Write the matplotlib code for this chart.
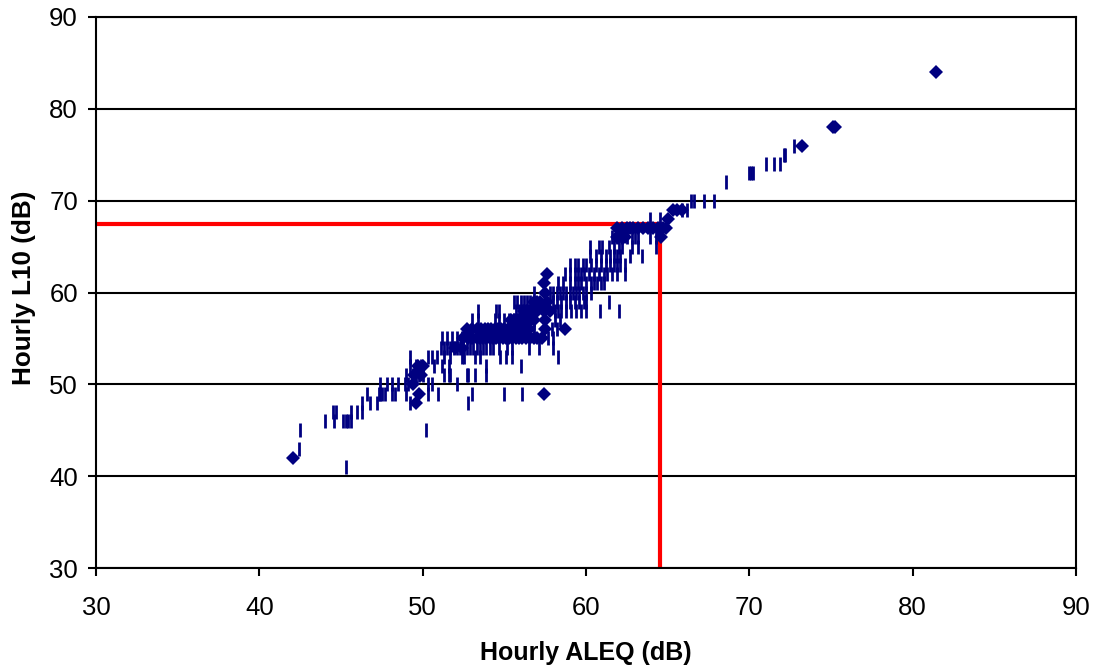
import matplotlib
matplotlib.use("Agg")
import matplotlib.pyplot as plt

plt.rcParams['font.family'] = ['Liberation Sans', 'DejaVu Sans']

# hourly ALEQ readings grouped by their L10 value, first series (tick marker)
t41 = [45.3]
t43 = [42.4]
t45 = [42.5, 50.2]
t46 = [44.0, 44.6, 45.1, 45.3, 45.45, 45.6]
t47 = [44.5, 44.7, 45.6, 46.0, 46.3]
t48 = [46.3, 46.8, 47.2, 49.2, 52.8]
t49 = [46.6, 47.3, 47.4, 47.5, 47.7, 48.15, 48.3, 49.0, 50.35, 50.96, 53.05, 55.0, 56.1]
t50 = [47.4, 47.8, 48.1, 48.5, 48.9, 49.1, 50.35, 50.6, 52.1]
t51 = [49.0, 49.4, 49.6, 49.8, 50.0, 51.3, 51.6, 51.7, 52.7, 52.8, 53.2, 53.9]
t52 = [49.2, 49.6, 49.9, 50.7, 51.2, 51.6, 53.9, 56.0]
t53 = [49.2, 50.35, 50.6, 50.85, 51.3, 51.7, 52.4, 52.55, 53.2, 53.5, 54.75, 55.1, 55.5, 58.3]
t54 = [51.1, 51.3, 51.5, 51.7, 51.9, 52.1, 52.3, 52.5, 52.7, 52.9, 53.1, 53.3, 53.5, 53.7,
       53.9, 54.1, 54.3, 54.7, 55.15, 55.5, 56.5, 57.1, 57.95]
t55 = [51.2, 51.5, 51.8, 52.1, 52.4, 57.7, 58.0]
t56 = [55.6, 55.9, 56.2, 56.5, 56.8, 57.9, 58.2]
t57 = [53.0, 53.4, 54.4, 54.7, 55.0, 55.3, 55.6, 55.9, 56.2, 56.5, 56.8, 58.1, 58.4]
t58 = [53.4, 54.5, 54.7, 55.7, 55.9, 56.1, 56.3, 56.5, 56.7, 58.1, 58.3, 58.5, 58.8, 59.1, 59.4,
       59.7, 60.0, 60.86, 62.0]
t59 = [55.6, 55.8, 56.0, 56.2, 56.4, 56.6, 58.0, 58.2, 58.5, 58.8, 59.0, 59.3, 59.6, 59.9, 60.0,
       61.4]
t60 = [56.8, 57.8, 58.0, 58.2, 58.4, 58.6, 58.8, 59.0, 59.2, 59.4, 59.6, 59.8, 60.0, 60.3]
t61 = [58.3, 58.6, 59.0, 59.3, 59.5, 59.7, 60.0, 60.3, 60.5, 60.7, 60.9, 61.1]
t62 = [58.7, 59.0, 59.3, 59.5, 59.7, 59.9, 60.2, 60.5, 60.8, 61.1, 61.3, 61.6, 61.9, 62.4]
t63 = [59.0, 59.3, 59.5, 59.8, 60.0, 60.3, 60.6, 60.9, 61.2, 61.5, 61.7, 61.9, 62.1, 62.4]
t64 = [60.25, 60.6, 60.9, 61.2, 61.5, 61.7, 61.9, 62.1, 62.7, 63.4]
t65 = [60.25, 60.8, 61.0, 61.4, 61.7, 62.0, 62.2, 62.8, 63.2, 64.3]
t66 = [61.6, 61.9, 62.2, 62.5, 62.8, 63.0, 63.2, 63.9, 64.3]
t68 = [63.9, 64.5]
t69 = [65.9, 66.2]
t70 = [66.4, 66.6, 67.2, 67.85]
t72 = [68.6]
t73 = [70.0, 70.1, 70.25]
t74 = [71.0, 71.5, 71.9]
t75 = [72.1, 72.2]
t76 = [72.75]
tick_levels = [41, 43, 45, 46, 47, 48, 49, 50, 51, 52, 53, 54, 55, 56, 57, 58, 59, 60, 61, 62,
               63, 64, 65, 66, 68, 69, 70, 72, 73, 74, 75, 76]
tick_rows = [t41, t43, t45, t46, t47, t48, t49, t50, t51, t52, t53, t54, t55, t56, t57, t58, t59,
             t60, t61, t62, t63, t64, t65, t66, t68, t69, t70, t72, t73, t74, t75, t76]

# second series (diamond marker)
d42 = [42.04]
d48 = [49.6]
d49 = [49.8, 57.4]
d50 = [49.4]
d51 = [49.5, 49.9]
d52 = [49.7, 50.0]
d54 = [52.0, 52.4]
d55 = [52.5, 52.8, 53.0, 53.3, 53.5, 53.7, 53.9, 54.1, 54.3, 54.5, 54.7, 54.9, 55.1, 55.3, 55.5,
       55.7, 55.9, 56.1, 56.3, 56.6, 56.8, 57.0, 57.3]
d56 = [52.7, 53.0, 53.3, 53.6, 53.8, 54.0, 54.2, 54.4, 54.6, 54.8, 55.0, 55.2, 55.5, 55.8, 56.0,
       56.2, 56.5, 57.5, 58.7]
d57 = [55.4, 55.6, 55.8, 56.0, 56.2, 56.4, 56.6, 56.8, 57.5]
d58 = [56.2, 56.4, 56.7, 57.0, 57.4, 57.8]
d59 = [56.8, 57.0, 57.2, 57.6]
d60 = [57.5]
d61 = [57.4]
d62 = [57.6]
d66 = [61.9, 62.0, 62.2, 62.4, 64.6]
d67 = [61.9, 62.2, 62.5, 62.7, 62.9, 63.2, 63.5, 63.8, 64.1, 64.4, 64.7, 64.9]
d68 = [65.05]
d69 = [65.3, 65.6, 65.9]
d76 = [73.2]
d78 = [75.15, 75.25]
d84 = [81.4]
diamond_levels = [42, 48, 49, 50, 51, 52, 54, 55, 56, 57, 58, 59, 60, 61, 62, 66, 67, 68, 69, 76, 78, 84]
diamond_rows = [d42, d48, d49, d50, d51, d52, d54, d55, d56, d57, d58, d59, d60, d61, d62,
                d66, d67, d68, d69, d76, d78, d84]

# red guide lines
guide_x = [30, 64.5, 64.5]
guide_y = [67.5, 67.5, 30]

navy = '#000080'

fig = plt.figure(figsize=(10.97, 6.71), dpi=100)
ax = fig.add_axes([96 / 1097, 1 - 568 / 671, 980 / 1097, 551 / 671])

ax.plot(guide_x, guide_y, color='#ff0000', lw=3, zorder=2, solid_joinstyle='miter', solid_capstyle='butt')

for level, row in zip(tick_levels, tick_rows):
    ax.plot(row, [level] * len(row), ls='none', marker='|', ms=9.5, mew=2.0, color=navy, zorder=3)
for level, row in zip(diamond_levels, diamond_rows):
    ax.plot(row, [level] * len(row), ls='none', marker='D', ms=6.8, mew=0, color=navy, zorder=4)

ax.set_xlim(30, 90)
ax.set_ylim(30, 90)
ax.set_xticks(range(30, 91, 10))
ax.set_yticks(range(30, 91, 10))
ax.grid(axis='y', color='black', lw=1.5, zorder=1)
ax.set_axisbelow(True)
for s in ax.spines.values():
    s.set_linewidth(1.5)
ax.tick_params(length=6, width=1.5, labelsize=18.5, colors='black')
ax.tick_params(axis='x', pad=14)
ax.tick_params(axis='y', pad=7)

ax.set_xlabel("Hourly ALEQ (dB)", fontsize=18, fontweight='bold', labelpad=15)
ax.set_ylabel("Hourly L10 (dB)", fontsize=18.8, fontweight='bold')
ax.yaxis.set_label_coords(-0.0612, 0.509)

fig.savefig("out.png", dpi=100)
